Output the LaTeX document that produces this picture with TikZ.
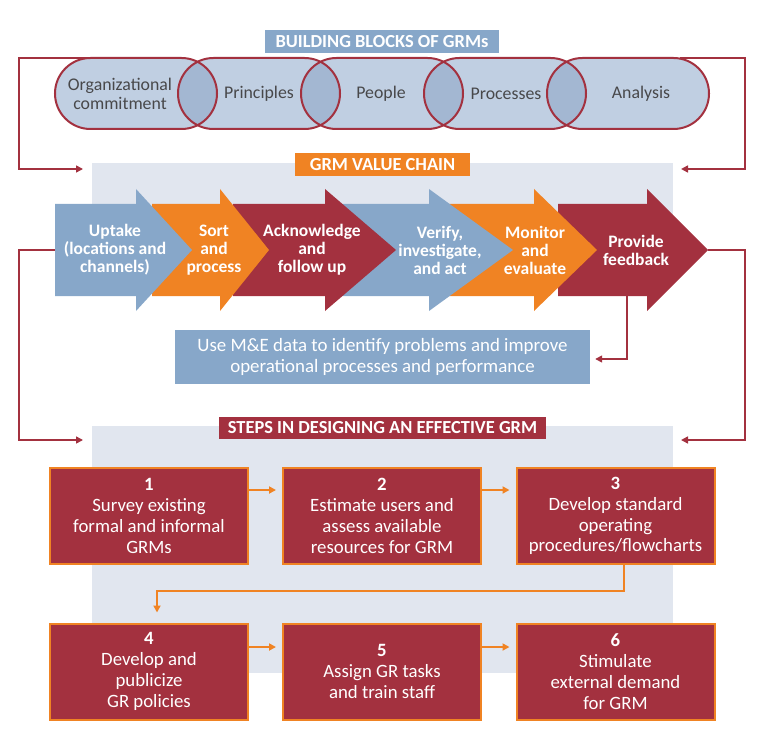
\documentclass[tikz,border=0pt]{standalone}
\usepackage{fontspec}
\setmainfont{Carlito}
\usetikzlibrary{arrows.meta}
\definecolor{grmred}{HTML}{A3313F}
\definecolor{grmorange}{HTML}{F08323}
\definecolor{grmblue}{HTML}{87A7C9}
\definecolor{pilllight}{HTML}{C0CFE2}
\definecolor{pilldark}{HTML}{A3B7D2}
\definecolor{panelgray}{HTML}{E1E6EF}
\definecolor{pillgray}{HTML}{48484A}
\begin{document}
\begin{tikzpicture}[x=1pt,y=-1pt,
  pillshape/.style={rounded corners=35.5pt},
  pilltext/.style={text=pillgray, align=center, font=\fontsize{17.8}{19}\selectfont},
  heading/.style={text=white, inner sep=0pt, font=\bfseries\fontsize{18.4}{20}\selectfont},
  chaintext/.style={text=white, align=center, font=\bfseries\fontsize{17.5}{18}\selectfont},
  loopline/.style={draw=grmred, line width=1.6pt, -{Triangle[length=7pt,width=7pt]}},
  stepbox/.style={draw=grmorange, line width=2pt, fill=grmred, text=white, align=center,
    minimum width=198pt, minimum height=96pt, inner sep=0pt, font=\fontsize{18.8}{20.8}\selectfont},
  steplink/.style={draw=grmorange, line width=2pt, -{Triangle[length=7pt,width=7pt]}}]
\useasboundingbox (0,0) rectangle (762,743);

% background panels
\fill[panelgray] (92,163) rectangle (673,250);
\fill[panelgray] (92,426) rectangle (673,673);

% loop points
\coordinate (bbNW) at (100,58);
\coordinate (bbNE) at (680,58);
\coordinate (vcW) at (83,169);
\coordinate (vcE) at (681,169);
\coordinate (upW) at (55,250);
\coordinate (pfE) at (708,250);
\coordinate (stW) at (83,440);
\coordinate (stE) at (681,440);
\coordinate (pfS) at (627,296);

\draw[loopline] (bbNW) -- (19,58) |- (vcW);
\draw[loopline] (bbNE) -- (745,58) |- (vcE);
\draw[loopline] (upW) -- (19,250) |- (stW);
\draw[loopline] (pfE) -- (745,250) |- (stE);

% building blocks
\foreach \x in {55,178,301,424,547}
  \fill[pilllight, pillshape] (\x,58) rectangle ++(162,71);
\foreach \x in {55,178,301,424} {
  \begin{scope}
  \clip[pillshape] (\x,58) rectangle ++(162,71);
  \fill[pilldark, pillshape] (\x+123,58) rectangle ++(162,71);
  \end{scope}
}
\foreach \x in {55,178,301,424,547}
  \draw[grmred, line width=2pt, pillshape] (\x,58) rectangle ++(162,71);

\node[pilltext] (org) at (120,93.5) {Organizational\\commitment};
\node[pilltext] (prin) at (259,93.5) {Principles};
\node[pilltext] (peop) at (381,93.5) {People};
\node[pilltext] (proc) at (506,93.5) {Processes};
\node[pilltext] (anal) at (641,93.5) {Analysis};

\node[heading, fill=grmblue, minimum width=234pt, minimum height=23pt] (bbtitle) at (382,41.5) {BUILDING BLOCKS OF GRMs};

% value chain, drawn right to left so each head lies on the next body
\node[heading, fill=grmorange, minimum width=175pt, minimum height=23pt] (vctitle) at (382.5,164.5) {GRM VALUE CHAIN};

\foreach \a/\b/\c/\col in {558/647/708/grmred, 448/534/597/grmorange, 340/429/513/grmblue,
    233/325/396/grmred, 152/220/269/grmorange, 55/136/192/grmblue}
  \fill[\col] (\a,204) -- (\b,204) -- (\b,189) -- (\c,250) -- (\b,311) -- (\b,296) -- (\a,296) -- cycle;

\node[chaintext] (ch1) at (115,250) {Uptake\\(locations and\\channels)};
\node[chaintext] (ch2) at (214,250) {Sort\\and\\process};
\node[chaintext] (ch3) at (312,250) {Acknowledge\\and\\follow up};
\node[chaintext] (ch4) at (440,250) {Verify,\\investigate,\\and act};
\node[chaintext] (ch5) at (535,250) {Monitor\\and\\evaluate};
\node[chaintext] (ch6) at (636,250) {Provide\\feedback};

\node[fill=grmblue, text=white, align=center, minimum width=415pt, minimum height=54pt,
  inner sep=0pt, font=\fontsize{18.9}{21.5}\selectfont] (medata) at (382.5,357)
  {Use M\&E data to identify problems and improve\\operational processes and performance};

\draw[loopline] (pfS) |- ([xshift=5pt,yshift=-2pt]medata.east);

% steps
\node[heading, fill=grmred, minimum width=327pt, minimum height=22pt] (sttitle) at (382.5,428) {STEPS IN DESIGNING AN EFFECTIVE GRM};

\node[stepbox] (s1) at (149,516) {{\bfseries 1}\\Survey existing\\formal and informal\\GRMs};
\node[stepbox] (s2) at (382,516) {{\bfseries 2}\\Estimate users and\\assess available\\resources for GRM};
\node[stepbox] (s3) at (615.5,516) {{\bfseries 3}\\Develop standard\\operating\\procedures/flowcharts};
\node[stepbox] (s4) at (149,671.5) {{\bfseries 4}\\Develop and\\publicize\\GR policies};
\node[stepbox] (s5) at (382,671.5) {{\bfseries 5}\\Assign GR tasks\\and train staff};
\node[stepbox] (s6) at (615.5,671.5) {{\bfseries 6}\\Stimulate\\external demand\\for GRM};

\draw[steplink] ([yshift=26pt]s1.east) -- ([xshift=-6pt,yshift=26pt]s2.west);
\draw[steplink] ([yshift=26pt]s2.east) -- ([xshift=-6pt,yshift=26pt]s3.west);
\draw[steplink] ([xshift=8.5pt]s3.south) -- ++(0,26) -| ([xshift=8pt,yshift=10pt]s4.north);
\draw[steplink] ([yshift=24.5pt]s4.east) -- ([xshift=-6pt,yshift=24.5pt]s5.west);
\draw[steplink] ([yshift=24.5pt]s5.east) -- ([xshift=-6pt,yshift=24.5pt]s6.west);
\end{tikzpicture}
\end{document}
